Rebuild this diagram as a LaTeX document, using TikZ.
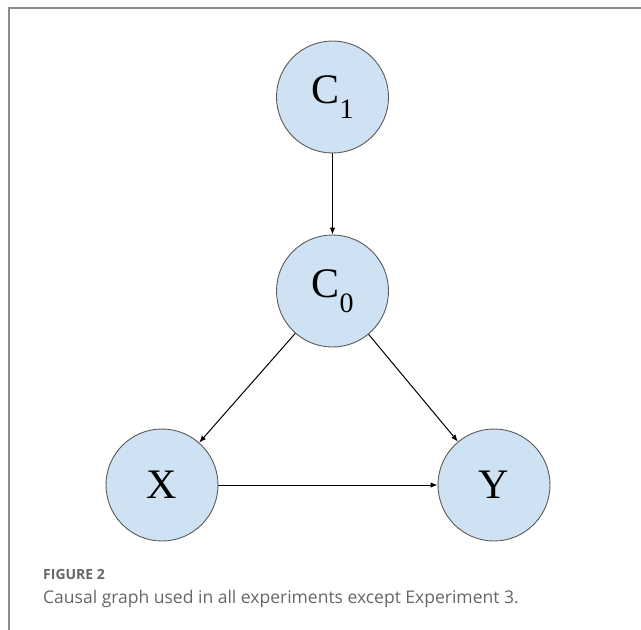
\documentclass[tikz,border=0pt]{standalone}
\usepackage{fontspec}
\usetikzlibrary{arrows.meta}
\newfontfamily\nodefont{Liberation Serif}
\newfontfamily\capfont{Open Sans}
\definecolor{nodefill}{HTML}{CFE2F3}
\definecolor{nodeline}{HTML}{595959}
\definecolor{framegray}{HTML}{8C8C8C}
\definecolor{captiongray}{HTML}{666666}
\newcommand{\varlabel}[2]{{\nodefont\fontsize{42}{42}\selectfont #1\raisebox{-0.36em}{\fontsize{28}{28}\selectfont #2}}}
\begin{document}
\begin{tikzpicture}[x=1pt,y=-1pt,
  var/.style={circle,draw=nodeline,line width=0.9pt,fill=nodefill,minimum size=112pt,inner sep=0pt,font=\nodefont\fontsize{42}{42}\selectfont},
  arr/.style={-{Latex[length=7pt,width=5.5pt]},line width=1pt,black}]
\useasboundingbox (0,0) rectangle (641,630);
\draw[framegray,line width=2pt] (8.5,630) -- (8.5,7.5) -- (641,7.5);
\node[var] (c1) at (332.5,97) {\varlabel{C}{1}};
\node[var] (c0) at (332.5,291) {\varlabel{C}{0}};
\node[var] (x) at (162,485) {X};
\node[var] (y) at (494,485) {Y};
\draw[arr] (c1) -- (c0);
\draw[arr] (c0) -- (x);
\draw[arr] (c0) -- (y);
\draw[arr] (x) -- (y);
\node[anchor=base west,inner sep=0pt,text=captiongray,font=\capfont\bfseries\fontsize{14}{14}\selectfont] (fig) at (43,579) {FIGURE 2};
\node[anchor=base west,inner sep=0pt,text=captiongray,font=\capfont\fontsize{17.5}{17.5}\selectfont] (cap) at (43,603) {Causal graph used in all experiments except Experiment 3.};
\end{tikzpicture}
\end{document}
